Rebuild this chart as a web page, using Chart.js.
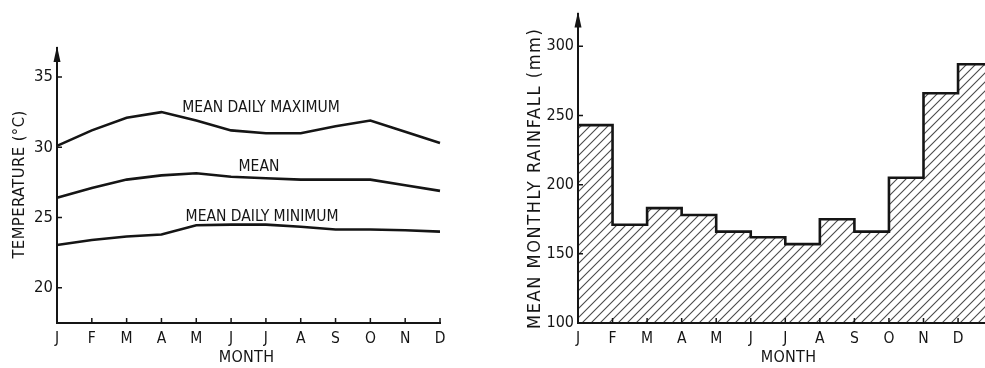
<!DOCTYPE html>
<html><head><meta charset="utf-8">
<script src="https://cdn.jsdelivr.net/npm/chart.js"></script>
<style>
html,body{margin:0;padding:0;background:#fff;width:985px;height:368px;overflow:hidden}
#w1{position:absolute;left:0;top:0;width:480px;height:368px}
#w2{position:absolute;left:500px;top:0;width:485px;height:368px}
</style></head><body>
<div id="w1"><canvas id="c1"></canvas></div>
<div id="w2"><canvas id="c2"></canvas></div>
<script>
// ---- data ----
const months = ['J','F','M','A','M','J','J','A','S','O','N','D'];
const tempMax  = [30.1, 31.2, 32.1, 32.5, 31.9, 31.2, 31.0, 31.0, 31.5, 31.9, 31.1, 30.3];
const tempMean = [26.4, 27.1, 27.7, 28.0, 28.15, 27.9, 27.8, 27.7, 27.7, 27.7, 27.3, 26.9];
const tempMin  = [23.05, 23.4, 23.65, 23.8, 24.45, 24.5, 24.5, 24.35, 24.15, 24.15, 24.1, 24.0];
const tempTicks = [20, 25, 30, 35];
const rainfall = [243, 171, 183, 178, 166, 162, 157, 175, 166, 205, 266, 287];
const rainTicks = [100, 150, 200, 250, 300];
const lineLabels = ['MEAN DAILY MAXIMUM', 'MEAN', 'MEAN DAILY MINIMUM'];

const FONT = "'Liberation Sans Narrow','DejaVu Sans Condensed','Arial Narrow',sans-serif";
const INK = '#151515';
Chart.defaults.font.family = FONT;
Chart.defaults.color = INK;

// ---- plugins ----
const axisDeco = {
  id: 'axisDeco',
  afterDraw(chart) {
    const {ctx, chartArea: ca, scales: {x, y}} = chart;
    ctx.save();
    ctx.strokeStyle = INK; ctx.lineWidth = 1.5;
    ctx.beginPath();
    x.ticks.forEach((t, i) => {
      const px = x.getPixelForTick(i);
      if (px > ca.left + 2 && px <= ca.right) { ctx.moveTo(px, ca.bottom); ctx.lineTo(px, ca.bottom - 5); }
    });
    y.ticks.forEach((t, i) => {
      const py = y.getPixelForTick(i);
      if (py < ca.bottom - 2) { ctx.moveTo(ca.left, py); ctx.lineTo(ca.left + 5, py); }
    });
    ctx.stroke();
    ctx.fillStyle = INK;
    ctx.beginPath();
    ctx.moveTo(ca.left, ca.top - 2);
    ctx.lineTo(ca.left - 3.5, ca.top + 14);
    ctx.lineTo(ca.left + 3.5, ca.top + 14);
    ctx.closePath();
    ctx.fill();
    ctx.restore();
  }
};

const axisTitles = {
  id: 'axisTitles',
  afterDraw(chart, args, o) {
    const {ctx, chartArea: ca} = chart;
    ctx.save();
    ctx.fillStyle = INK; ctx.textAlign = 'center'; ctx.textBaseline = 'middle';
    ctx.font = o.xSize + 'px ' + FONT;
    ctx.letterSpacing = o.xSpacing + 'px';
    ctx.fillText(o.xText, (ca.left + ca.right) / 2 + o.xShift, o.xY);
    ctx.translate(o.yX, (ca.top + ca.bottom) / 2 + o.yShift);
    ctx.rotate(-Math.PI / 2);
    ctx.font = o.ySize + 'px ' + FONT;
    ctx.letterSpacing = o.ySpacing + 'px';
    ctx.fillText(o.yText, 0, 0);
    ctx.restore();
  }
};

const lineTags = {
  id: 'lineTags',
  afterDatasetsDraw(chart, args, o) {
    const {ctx, scales: {x, y}} = chart;
    ctx.save();
    ctx.fillStyle = INK; ctx.textAlign = 'center'; ctx.textBaseline = 'middle';
    ctx.font = o.size + 'px ' + FONT;
    ctx.letterSpacing = o.spacing + 'px';
    o.anchors.forEach((a, i) => ctx.fillText(lineLabels[i], x.getPixelForValue(a.x), y.getPixelForValue(a.y)));
    ctx.restore();
  }
};

// ---- left chart ----
const lineDs = (d) => ({data: d, borderColor: INK, borderWidth: 2.6, pointRadius: 0, tension: 0, fill: false});
new Chart(document.getElementById('c1'), {
  type: 'line',
  data: {labels: months, datasets: [lineDs(tempMax), lineDs(tempMean), lineDs(tempMin)]},
  options: {
    responsive: true, maintainAspectRatio: false, animation: false,
    layout: {padding: {left: 0, top: 48, right: 40, bottom: 0}},
    plugins: {
      legend: {display: false}, tooltip: {enabled: false},
      axisTitles: {xText: 'MONTH', xSize: 16, xSpacing: 0.3, xShift: -2, xY: 358,
                   yText: 'TEMPERATURE (°C)', ySize: 16.5, ySpacing: 0.4, yX: 20, yShift: -1},
      lineTags: {size: 15.5, spacing: 0, anchors: [{x: 5.86, y: 32.8}, {x: 5.8, y: 28.6}, {x: 5.89, y: 25.04}]}
    },
    scales: {
      x: {type: 'category', offset: false,
          grid: {display: false, drawTicks: false},
          border: {display: true, color: INK, width: 2, z: 1},
          ticks: {padding: 7, font: {size: 15.5}, maxRotation: 0, autoSkip: false},
          afterFit(s) { s.height = 45; }},
      y: {min: 17.5, max: 37.06,
          grid: {display: false, drawTicks: false},
          border: {display: true, color: INK, width: 2, z: 1},
          afterBuildTicks(s) { s.ticks = tempTicks.map(v => ({value: v})); },
          ticks: {padding: 4, font: {size: 16.5}},
          afterFit(s) { s.width = 57; }}
    }
  },
  plugins: [axisDeco, axisTitles, lineTags]
});

// ---- right chart ----
const c2 = document.getElementById('c2');
const pc = document.createElement('canvas');
pc.width = 9; pc.height = 9;
const g = pc.getContext('2d');
g.strokeStyle = '#4a4a4a'; g.lineWidth = 1.1;
g.beginPath();
g.moveTo(-1, 10); g.lineTo(10, -1);
g.moveTo(-1, 1); g.lineTo(1, -1);
g.moveTo(8, 10); g.lineTo(10, 8);
g.stroke();
const hatch = c2.getContext('2d').createPattern(pc, 'repeat');

const rainPoints = rainfall.map((v, i) => ({x: i, y: v}));
rainPoints.push({x: rainfall.length, y: rainfall[rainfall.length - 1]});

new Chart(c2, {
  type: 'line',
  data: {datasets: [{data: rainPoints, stepped: 'before', borderColor: INK, borderWidth: 2.6,
                     pointRadius: 0, fill: 'start', backgroundColor: hatch}]},
  options: {
    responsive: true, maintainAspectRatio: false, animation: false,
    layout: {padding: {left: 0, top: 10, right: 0, bottom: 0}},
    plugins: {
      legend: {display: false}, tooltip: {enabled: false},
      axisTitles: {xText: 'MONTH', xSize: 16, xSpacing: 0.3, xShift: 7, xY: 358,
                   yText: 'MEAN MONTHLY RAINFALL (mm)', ySize: 18, ySpacing: 1.6, yX: 35, yShift: 10}
    },
    scales: {
      x: {type: 'linear', min: 0, max: 11.78,
          grid: {display: false, drawTicks: false},
          border: {display: true, color: INK, width: 2, z: 1},
          afterBuildTicks(s) { s.ticks = months.map((m, i) => ({value: i})); },
          ticks: {padding: 7, font: {size: 15.5}, maxRotation: 0, autoSkip: false,
                  callback: (v) => months[v]},
          afterFit(s) { s.height = 45; }},
      y: {min: 100, max: 323.6,
          grid: {display: false, drawTicks: false},
          border: {display: true, color: INK, width: 2, z: 1},
          afterBuildTicks(s) { s.ticks = rainTicks.map(v => ({value: v})); },
          ticks: {padding: 4, font: {size: 16}},
          afterFit(s) { s.width = 78; }}
    }
  },
  plugins: [axisDeco, axisTitles]
});
</script>
</body></html>
